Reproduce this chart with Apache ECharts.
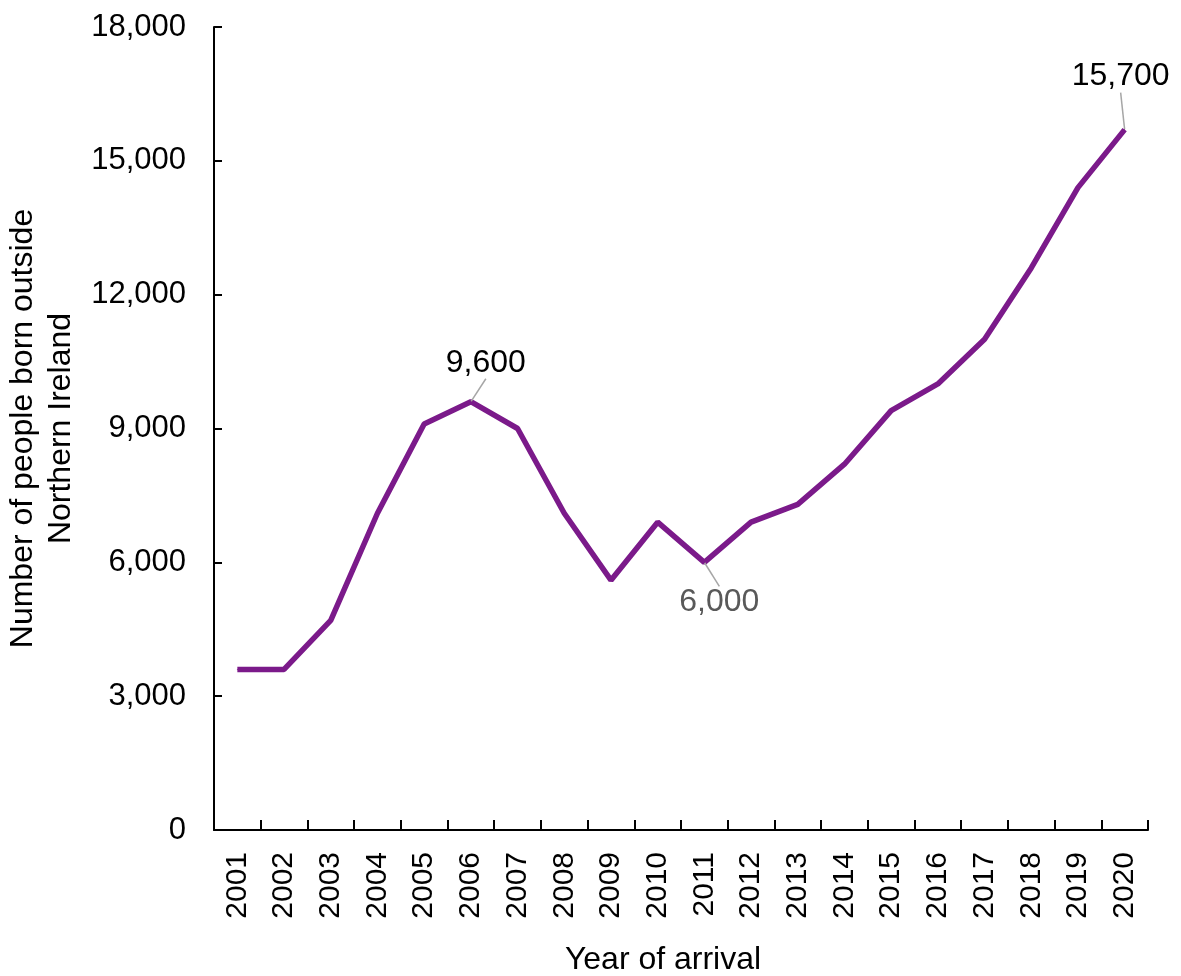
<!DOCTYPE html>
<html><head><meta charset="utf-8">
<script src="https://cdn.jsdelivr.net/npm/echarts@6/dist/echarts.min.js"></script>
<style>html,body{margin:0;padding:0;background:#fff}#c{width:1181px;height:976px}</style>
</head><body><div id="c"></div>
<script>
const years = ['2001','2002','2003','2004','2005','2006','2007','2008','2009','2010','2011','2012','2013','2014','2015','2016','2017','2018','2019','2020'];
const people = [3600,3600,4700,7100,9100,9600,9000,7100,5600,6900,6000,6900,7300,8200,9400,10000,11000,12600,14400,15700];
const yTicks = [0,3000,6000,9000,12000,15000,18000];
const annotations = {
  '2006': {dx: 15, dy: -39, color: '#000000'},
  '2011': {dx: 15, dy: 40, color: '#595959'},
  '2020': {dx: -4, dy: -53, color: '#000000'}
};
const font = 'Liberation Sans, Arial, sans-serif';
const data = people.map((v, i) => {
  const a = annotations[years[i]];
  if (!a) return v;
  return {
    value: v,
    label: {show: true, position: 'inside', color: a.color, fontSize: 32, fontFamily: font,
      formatter: p => p.value.toLocaleString('en-US')},
    labelLine: {show: true, lineStyle: {color: '#A6A6A6', width: 1.5}}
  };
});
const chart = echarts.init(document.getElementById('c'));
chart.setOption({
  animation: false,
  grid: {left: 214, right: 33, top: 27, bottom: 146, outerBoundsMode: 'none', containLabel: false},
  xAxis: {
    type: 'category', data: years, boundaryGap: true,
    name: 'Year of arrival', nameLocation: 'middle', nameGap: 114,
    nameTextStyle: {fontSize: 32, color: '#000', fontFamily: font, padding: [0, 36, 0, 0]},
    axisLine: {lineStyle: {color: '#000', width: 2}},
    axisTick: {show: true, inside: true, length: 10, alignWithLabel: false, lineStyle: {color: '#000', width: 2}},
    axisLabel: {rotate: 90, fontSize: 30, color: '#000', fontFamily: font, margin: 22}
  },
  yAxis: {
    type: 'value', min: 0, max: 18000, interval: 3000,
    name: 'Number of people born outside\nNorthern Ireland', nameLocation: 'middle', nameGap: 125,
    nameTextStyle: {fontSize: 32, color: '#000', fontFamily: font, lineHeight: 38},
    axisLine: {show: true, lineStyle: {color: '#000', width: 2}},
    axisTick: {show: true, inside: true, length: 8, lineStyle: {color: '#000', width: 2}},
    splitLine: {show: false},
    axisLabel: {fontSize: 31, color: '#000', fontFamily: font, margin: 28,
      formatter: v => yTicks.includes(v) ? v.toLocaleString('en-US') : ''}
  },
  series: [{
    type: 'line', data: data, symbol: 'circle', symbolSize: 1, showSymbol: true,
    lineStyle: {color: '#7B1A8A', width: 5.5},
    itemStyle: {color: '#7B1A8A'},
    labelLayout: params => {
      const a = annotations[years[params.dataIndex]];
      return a ? {dx: a.dx, dy: a.dy} : {};
    }
  }]
});
</script></body></html>
